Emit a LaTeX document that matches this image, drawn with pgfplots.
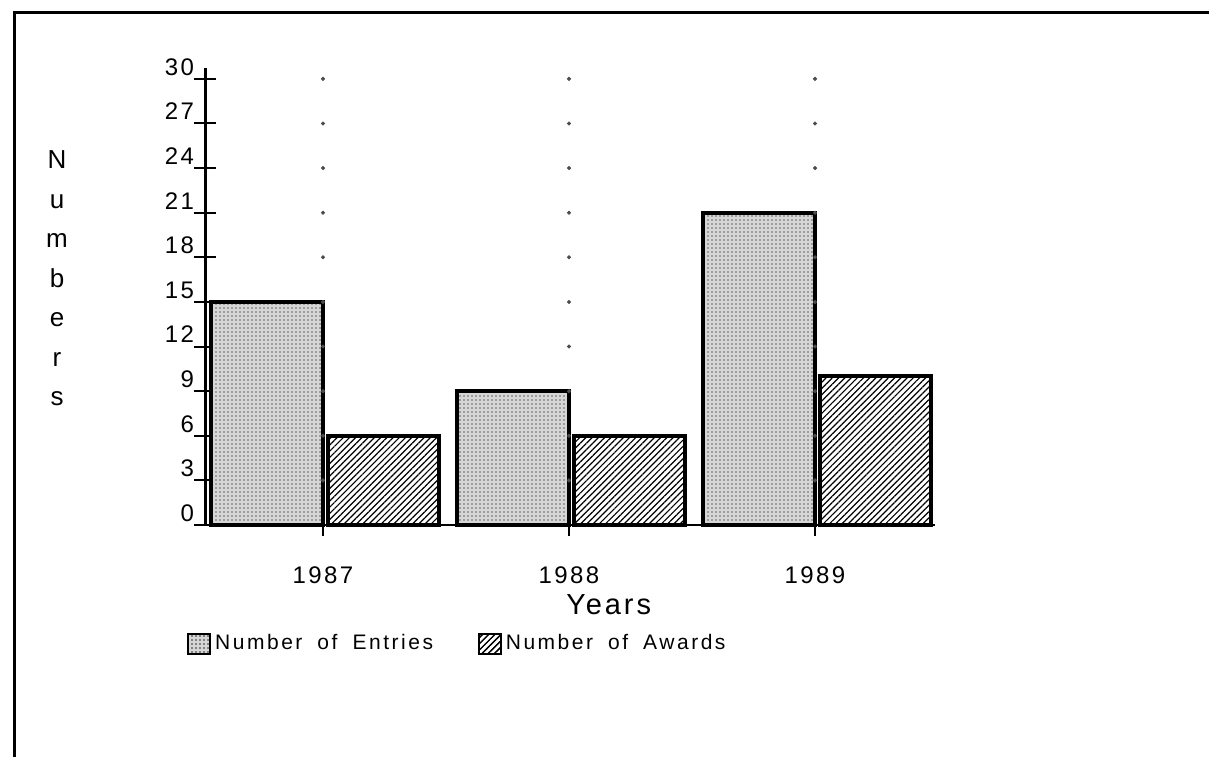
\documentclass[border=0pt]{standalone}
\usepackage{fontspec}
\setmainfont{Liberation Sans}
\newfontfamily\tickfont[LetterSpace=10]{Liberation Sans}
\newfontfamily\legfont[LetterSpace=12,WordSpace=1.8]{Liberation Sans}
\newfontfamily\yearsfont[LetterSpace=10]{Liberation Sans}
\usepackage{pgfplots}
\pgfplotsset{compat=1.18}
\usetikzlibrary{patterns.meta}

\pgfplotstableread{
x y
0 15
1 9
2 21
}\entries
\pgfplotstableread{
x y
0 6
1 6
2 10
}\awards

\begin{document}
\begin{tikzpicture}
\path[use as bounding box] (0,0) rectangle (604.5pt,378pt);
\draw[line width=1.5pt] (7pt,-2pt) -- (7pt,371.5pt) -- (606pt,371.5pt);
\begin{axis}[
  at={(102.5pt,115.5pt)}, anchor=south west,
  scale only axis, width=365pt, height=228.5pt,
  xmin=-0.4797, xmax=2.4878, ymin=0, ymax=30.73,
  axis x line*=bottom, axis y line*=left,
  axis line style={-},
  x axis line style={line width=1.1pt},
  y axis line style={line width=1.5pt},
  xtick={0,1,2}, xticklabels={1987,1988,1989},
  ytick={0,3,...,30},
  tick align=center, major tick length=11pt,
  tick style={line width=1pt, black},
  /pgf/number format/assume math mode=true,
  yticklabel style={font=\tickfont\fontsize{12}{14}\selectfont, anchor=east, yshift=6pt, xshift=3.5pt},
  xticklabel style={font=\tickfont\fontsize{12}{14}\selectfont, anchor=north, yshift=-12pt},
  xlabel={Years},
  xlabel style={at={(axis description cs:0.553,-0.175)}, anchor=center, font=\yearsfont\fontsize{14.5}{16}\selectfont},
  legend style={at={(axis description cs:-0.0247,-0.26)}, anchor=west, draw=none, fill=none,
    font=\legfont\fontsize{10.5}{12}\selectfont, inner sep=0pt,
    /tikz/every even column/.append style={column sep=20.5pt}},
  legend columns=2,
  legend cell align=left,
  clip=false,
]
\addplot[only marks, mark=*, mark size=0.8pt, black!70, forget plot] coordinates {
(0,3)(0,6)(0,9)(0,12)(0,15)(0,18)(0,21)(0,24)(0,27)(0,30)
(1,3)(1,6)(1,9)(1,12)(1,15)(1,18)(1,21)(1,24)(1,27)(1,30)
(2,3)(2,6)(2,9)(2,12)(2,15)(2,18)(2,21)(2,24)(2,27)(2,30)};
\addplot[ybar, bar width=0.455, bar shift=-0.2275, draw=black, line width=1.9pt,
  fill=black!16, postaction={pattern={Dots[radius=0.4pt, distance=2pt]}, pattern color=black!60},
  area legend,
  legend image code/.code={\draw[line width=0.9pt, fill=black!16, postaction={pattern={Dots[radius=0.4pt, distance=2pt]}, pattern color=black!60}] (0pt,-5pt) rectangle (11pt,5pt);}]
  table[x=x,y=y] {\entries};
\addlegendentry{Number  of  Entries}
\addplot[ybar, bar width=0.45, bar shift=0.245, draw=black, line width=1.9pt,
  fill=white, postaction={pattern={Lines[angle=45, distance=2.2pt, line width=0.6pt]}, pattern color=black},
  area legend,
  legend image code/.code={\draw[line width=0.9pt, fill=white, postaction={pattern={Lines[angle=45, distance=2.2pt, line width=0.6pt]}, pattern color=black}] (0pt,-5pt) rectangle (11pt,5pt);}]
  table[x=x,y=y] {\awards};
\addlegendentry{Number  of  Awards}
\draw[line width=1.1pt] (rel axis cs:-0.014,0) -- (rel axis cs:0,0);
\end{axis}
\node[font=\fontsize{13}{19.75}\selectfont, align=center, anchor=north] at (28.5pt,306pt) {N\\u\\m\\b\\e\\r\\s};
\end{tikzpicture}
\end{document}
